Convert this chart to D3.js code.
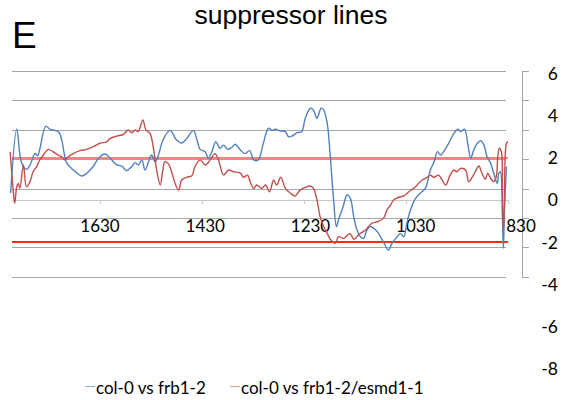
<!DOCTYPE html>
<html>
<head>
<meta charset="utf-8">
<script src="https://cdn.jsdelivr.net/npm/d3@7/dist/d3.min.js"></script>
<style>
  html, body { margin: 0; padding: 0; background: #fff; }
  svg { display: block; }
</style>
</head>
<body>
<svg id="chart" width="567" height="400"></svg>
<script>
// Position along the sequence (decreasing to the right) and log-ratio values
const blueX = [1805,1793,1784,1774,1767,1757,1752,1748,1736,1728,
  1718,1710,1705,1695,1682,1666,1656,1643,1633,1620,
  1610,1597,1587,1578,1568,1561,1555,1548,1542,1535,
  1529,1522,1516,1506,1493,1480,1470,1460,1447,1440,
  1434,1424,1418,1411,1403,1395,1388,1380,1372,1365,
  1355,1346,1337,1329,1320,1311,1300,1293,1287,1277,
  1267,1261,1254,1244,1235,1228,1218,1212,1205,1197,
  1192,1185,1179,1173,1167,1163,1154,1146,1140,1133,
  1127,1120,1114,1107,1101,1094,1087,1075,1065,1058,
  1048,1042,1035,1029,1022,1012,1003,993,983,976,
  969,963,957,947,937,929,924,916,910,904,
  898,891,884,878,872,865,859,852,849,846,
  842,840,838,834];
const blueValues = [0.33,3.35,1.8,1.45,1.66,2.2,2.1,2.4,3.5,3.35,
  3.3,3.2,2.85,1.75,1.42,1.14,1.27,1.6,1.98,2.18,
  1.98,1.66,1.6,1.39,1.58,1.77,1.66,1.9,1.42,1.8,
  2.13,1.8,2.1,2.88,3.3,2.84,2.7,2.92,3.3,2.84,
  2.4,2.29,1.98,2.29,2.76,2.45,2.6,2.4,2.5,2.64,
  2.37,2.2,2.34,1.9,1.9,2.6,3.4,3.3,3.35,3.28,
  3.24,3.0,3.03,3.19,3.24,3.87,4.35,4.27,3.87,4.35,
  4.27,3.63,2.05,0.16,-1.26,-0.95,-0.32,0.25,0.1,-0.8,
  -1.4,-1.74,-1.82,-1.42,-1.26,-1.34,-1.5,-1.98,-2.37,-2.05,
  -1.74,-1.58,-1.74,-1.1,-0.47,0.08,0.32,0.55,1.42,1.8,
  2.29,2.13,2.29,2.69,3.16,3.35,3.24,3.35,2.69,1.98,
  2.37,2.69,2.81,2.6,2.05,1.74,1.27,0.79,1.27,1.34,
  -0.79,-2.29,-0.5,1.58];

const redX = [1806,1800,1797,1793,1790,1787,1780,1774,1767,1761,
  1754,1748,1741,1731,1722,1712,1705,1699,1692,1682,
  1669,1656,1643,1630,1617,1610,1597,1584,1575,1568,
  1561,1555,1552,1546,1540,1532,1527,1522,1518,1512,
  1507,1503,1496,1489,1483,1476,1470,1460,1450,1444,
  1434,1424,1414,1405,1398,1388,1378,1369,1355,1349,
  1341,1336,1329,1323,1313,1306,1298,1290,1284,1276,
  1267,1257,1248,1238,1228,1218,1212,1205,1199,1192,
  1185,1179,1169,1163,1153,1145,1140,1133,1124,1120,
  1110,1104,1097,1087,1075,1068,1061,1055,1045,1035,
  1025,1019,1012,1006,999,989,983,976,967,960,
  953,945,937,931,924,914,908,901,895,888,
  882,875,871,865,859,854,851,848,844,842,
  840,838,834,831];
const redValues = [2.29,0.47,-0.16,0.63,0.79,0.55,1.66,0.63,0.87,1.34,
  1.58,1.9,2.13,2.4,2.29,2.13,2.05,1.9,2.05,2.2,
  2.34,2.4,2.53,2.69,2.76,2.92,3.03,3.11,3.32,3.19,
  3.32,3.24,3.4,3.79,3.32,3.16,2.69,1.9,1.27,0.71,
  1.42,1.82,1.71,1.27,0.79,0.47,0.95,1.08,1.15,1.58,
  1.9,1.66,1.9,2.2,1.9,1.18,1.42,1.34,1.27,1.08,
  1.18,0.87,0.55,0.71,0.55,0.71,0.39,0.95,0.71,1.08,
  0.55,0.32,0.19,0.47,0.6,0.66,0.55,0.0,-0.79,-1.26,
  -1.58,-1.86,-2.05,-1.74,-1.82,-1.66,-1.6,-1.86,-1.66,-1.58,
  -1.42,-1.26,-1.1,-1.03,-0.87,-0.47,-0.24,0.0,0.13,0.19,
  0.39,0.5,0.63,0.79,0.95,1.08,1.18,1.08,1.18,0.95,
  0.71,1.14,1.42,1.34,1.5,1.42,0.87,1.08,1.34,1.61,
  1.27,0.98,1.27,1.03,0.87,1.1,2.05,2.45,2.29,0.47,
  -1.42,-0.32,2.69,2.76];

const seriesNames = ["col-0 vs frb1-2", "col-0 vs frb1-2/esmd1-1"];
const seriesColors = ["#4f81bd", "#c0504d"];
const legendColors = ["#95b3d7", "#e6a3a1"];
const thresholds = [2.0, -2.0];
const thresholdColors = ["#f4857b", "#ff2a0a"];
const thresholdWidths = [2.5, 1.5];
const xTickValues = [1630, 1430, 1230, 1030, 830];
const yTickValues = [6, 4, 2, 0, -2, -4, -6, -8];
const gridSteps = [0, 1, 2, 3, 4, 5, 6, 7];

const svg = d3.select("#chart");
const plotLeft = 12, plotRight = 506;

// Scales: data position, label placement along the category axis, values, gridlines
const x = d3.scaleLinear().domain([1630, 830]).range([100, 508.5]);
const xLabel = d3.scaleLinear().domain([1630, 830]).range([100, 521]);
const y = d3.scaleLinear().domain([-8, 6]).range([368.8, 73.4]);
const grid = d3.scaleLinear().domain([0, 7]).range([277.4, 71.4]);

// Title and panel letter
svg.append("text")
  .attr("x", 12).attr("y", 48)
  .attr("font-family", "Liberation Sans, Arial, sans-serif")
  .attr("font-size", 37).attr("fill", "#000")
  .text("E");
svg.append("text")
  .attr("x", 291).attr("y", 24)
  .attr("text-anchor", "middle")
  .attr("font-family", "Liberation Sans, Arial, sans-serif")
  .attr("font-size", 26.5).attr("fill", "#000")
  .text("suppressor lines");

// Horizontal gridlines
svg.append("g").selectAll("line")
  .data(gridSteps).join("line")
  .attr("x1", plotLeft).attr("x2", plotRight)
  .attr("y1", d => grid(d)).attr("y2", d => grid(d))
  .attr("stroke", "#a6a6a6").attr("stroke-width", 1)
  .attr("shape-rendering", "crispEdges");

// Right-hand value axis: line with ticks at gridlines
const rAxis = svg.append("g");
rAxis.append("line")
  .attr("x1", 522).attr("x2", 522)
  .attr("y1", grid(7)).attr("y2", grid(0))
  .attr("stroke", "#a6a6a6").attr("shape-rendering", "crispEdges");
rAxis.selectAll("line.tk")
  .data(gridSteps).join("line").attr("class", "tk")
  .attr("x1", 522).attr("x2", 529)
  .attr("y1", d => grid(d)).attr("y2", d => grid(d))
  .attr("stroke", "#a6a6a6").attr("shape-rendering", "crispEdges");
rAxis.selectAll("text")
  .data(yTickValues).join("text")
  .attr("x", 558).attr("y", d => y(d))
  .attr("dy", "0.36em")
  .attr("text-anchor", "end")
  .attr("font-family", "Lato, sans-serif")
  .attr("font-size", 17.5).attr("fill", "#000")
  .text(d => d);

// Category axis at zero
const xAxisG = svg.append("g").attr("transform", `translate(0,${y(0)})`);
xAxisG.append("line")
  .attr("x1", plotLeft).attr("x2", 509)
  .attr("stroke", "#c8c8c8").attr("shape-rendering", "crispEdges");
xAxisG.selectAll("line.tk")
  .data(xTickValues).join("line").attr("class", "tk")
  .attr("x1", d => x(d)).attr("x2", d => x(d))
  .attr("y1", 0).attr("y2", 4)
  .attr("stroke", "#c8c8c8").attr("shape-rendering", "crispEdges");
xAxisG.selectAll("text")
  .data(xTickValues).join("text")
  .attr("x", d => xLabel(d)).attr("y", 26)
  .attr("dy", "0.36em")
  .attr("text-anchor", "middle")
  .attr("font-family", "Lato, sans-serif")
  .attr("font-size", 17).attr("fill", "#000")
  .text(d => d);

// Threshold lines
svg.append("g").selectAll("line")
  .data(thresholds).join("line")
  .attr("x1", plotLeft).attr("x2", 508)
  .attr("y1", d => y(d)).attr("y2", d => y(d))
  .attr("stroke", (d, i) => thresholdColors[i])
  .attr("stroke-width", (d, i) => thresholdWidths[i])
  .attr("shape-rendering", "crispEdges");

// Series lines
const line = d3.line()
  .x(d => x(d[0])).y(d => y(d[1]))
  .curve(d3.curveCatmullRom.alpha(0.5));
const series = [d3.zip(blueX, blueValues), d3.zip(redX, redValues)];
svg.append("g").selectAll("path")
  .data(series).join("path")
  .attr("d", line)
  .attr("fill", "none")
  .attr("stroke", (d, i) => seriesColors[i])
  .attr("stroke-width", 1.4)
  .attr("stroke-linejoin", "round");

// Legend
const legendX = [85, 230];
const leg = svg.append("g");
seriesNames.forEach((name, i) => {
  leg.append("line")
    .attr("x1", legendX[i]).attr("x2", legendX[i] + 10)
    .attr("y1", 386.5).attr("y2", 386.5)
    .attr("stroke", legendColors[i]).attr("stroke-width", 1.2);
  leg.append("text")
    .attr("x", legendX[i] + 11).attr("y", 388)
    .attr("dy", "0.36em")
    .attr("font-family", "Lato, sans-serif")
    .attr("font-size", 17).attr("fill", "#000")
    .text(name);
});
</script>
</body>
</html>
